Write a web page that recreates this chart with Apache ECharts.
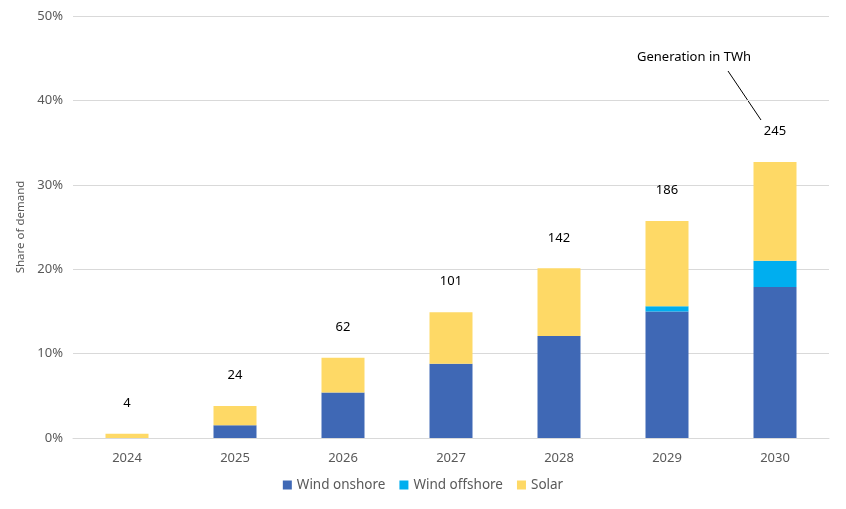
<!DOCTYPE html>
<html><head><meta charset="utf-8">
<script src="https://cdn.jsdelivr.net/npm/echarts@6/dist/echarts.min.js"></script>
<style>html,body{margin:0;padding:0;background:#fff}#c{width:846px;height:509px}</style>
</head><body><div id="c"></div>
<script>
const categories = ['2024','2025','2026','2027','2028','2029','2030'];
const windOnshore = [0, 1.5, 5.4, 8.8, 12.1, 15.0, 17.9];
const windOffshore = [0, 0, 0, 0, 0, 0.6, 3.1];
const solar = [0.5, 2.3, 4.1, 6.1, 8.0, 10.1, 11.7];
const totalsTWh = [4, 24, 62, 101, 142, 186, 245];
const yTicks = [0, 10, 20, 30, 40, 50];

const font = 'Noto Sans';
const chart = echarts.init(document.getElementById('c'));
chart.setOption({
  animation: false,
  textStyle: {fontFamily: font},
  grid: {left: 73, right: 17, top: 16, bottom: 71},
  legend: {
    bottom: 12, itemWidth: 9, itemHeight: 9, itemGap: 14, icon: 'rect',
    textStyle: {color: '#595959', fontSize: 13.5, fontFamily: font},
    data: ['Wind onshore', 'Wind offshore', 'Solar']
  },
  xAxis: {
    type: 'category', data: categories,
    axisLine: {lineStyle: {color: '#D9D9D9'}},
    axisTick: {show: false},
    axisLabel: {color: '#595959', fontSize: 13, margin: 14}
  },
  yAxis: {
    type: 'value', min: yTicks[0], max: yTicks[yTicks.length-1], interval: 10,
    name: 'Share of demand', nameLocation: 'middle', nameGap: 44, nameRotate: 90,
    nameTextStyle: {color: '#595959', fontSize: 11.5},
    axisLabel: {color: '#595959', fontSize: 13, formatter: '{value}%', margin: 10},
    splitLine: {lineStyle: {color: '#D9D9D9'}},
    axisLine: {show: false}, axisTick: {show: false}
  },
  series: [
    {name: 'Wind onshore', type: 'bar', stack: 's', data: windOnshore, barWidth: 43,
     itemStyle: {color: '#3F68B5'}},
    {name: 'Wind offshore', type: 'bar', stack: 's', data: windOffshore,
     itemStyle: {color: '#00AEEF'}},
    {name: 'Solar', type: 'bar', stack: 's', data: solar,
     itemStyle: {color: '#FED966'},
     label: {show: true, position: 'top', distance: 24, color: '#000', fontSize: 13,
       formatter: p => String(totalsTWh[p.dataIndex])}}
  ],
  graphic: [
    {type: 'text', left: 637, top: 51, style: {text: 'Generation in TWh', fill: '#000', font: '13px "Noto Sans"'}},
    {type: 'line', shape: {x1: 728, y1: 71, x2: 761, y2: 120}, style: {stroke: '#000', lineWidth: 1}}
  ]
});
</script></body></html>
